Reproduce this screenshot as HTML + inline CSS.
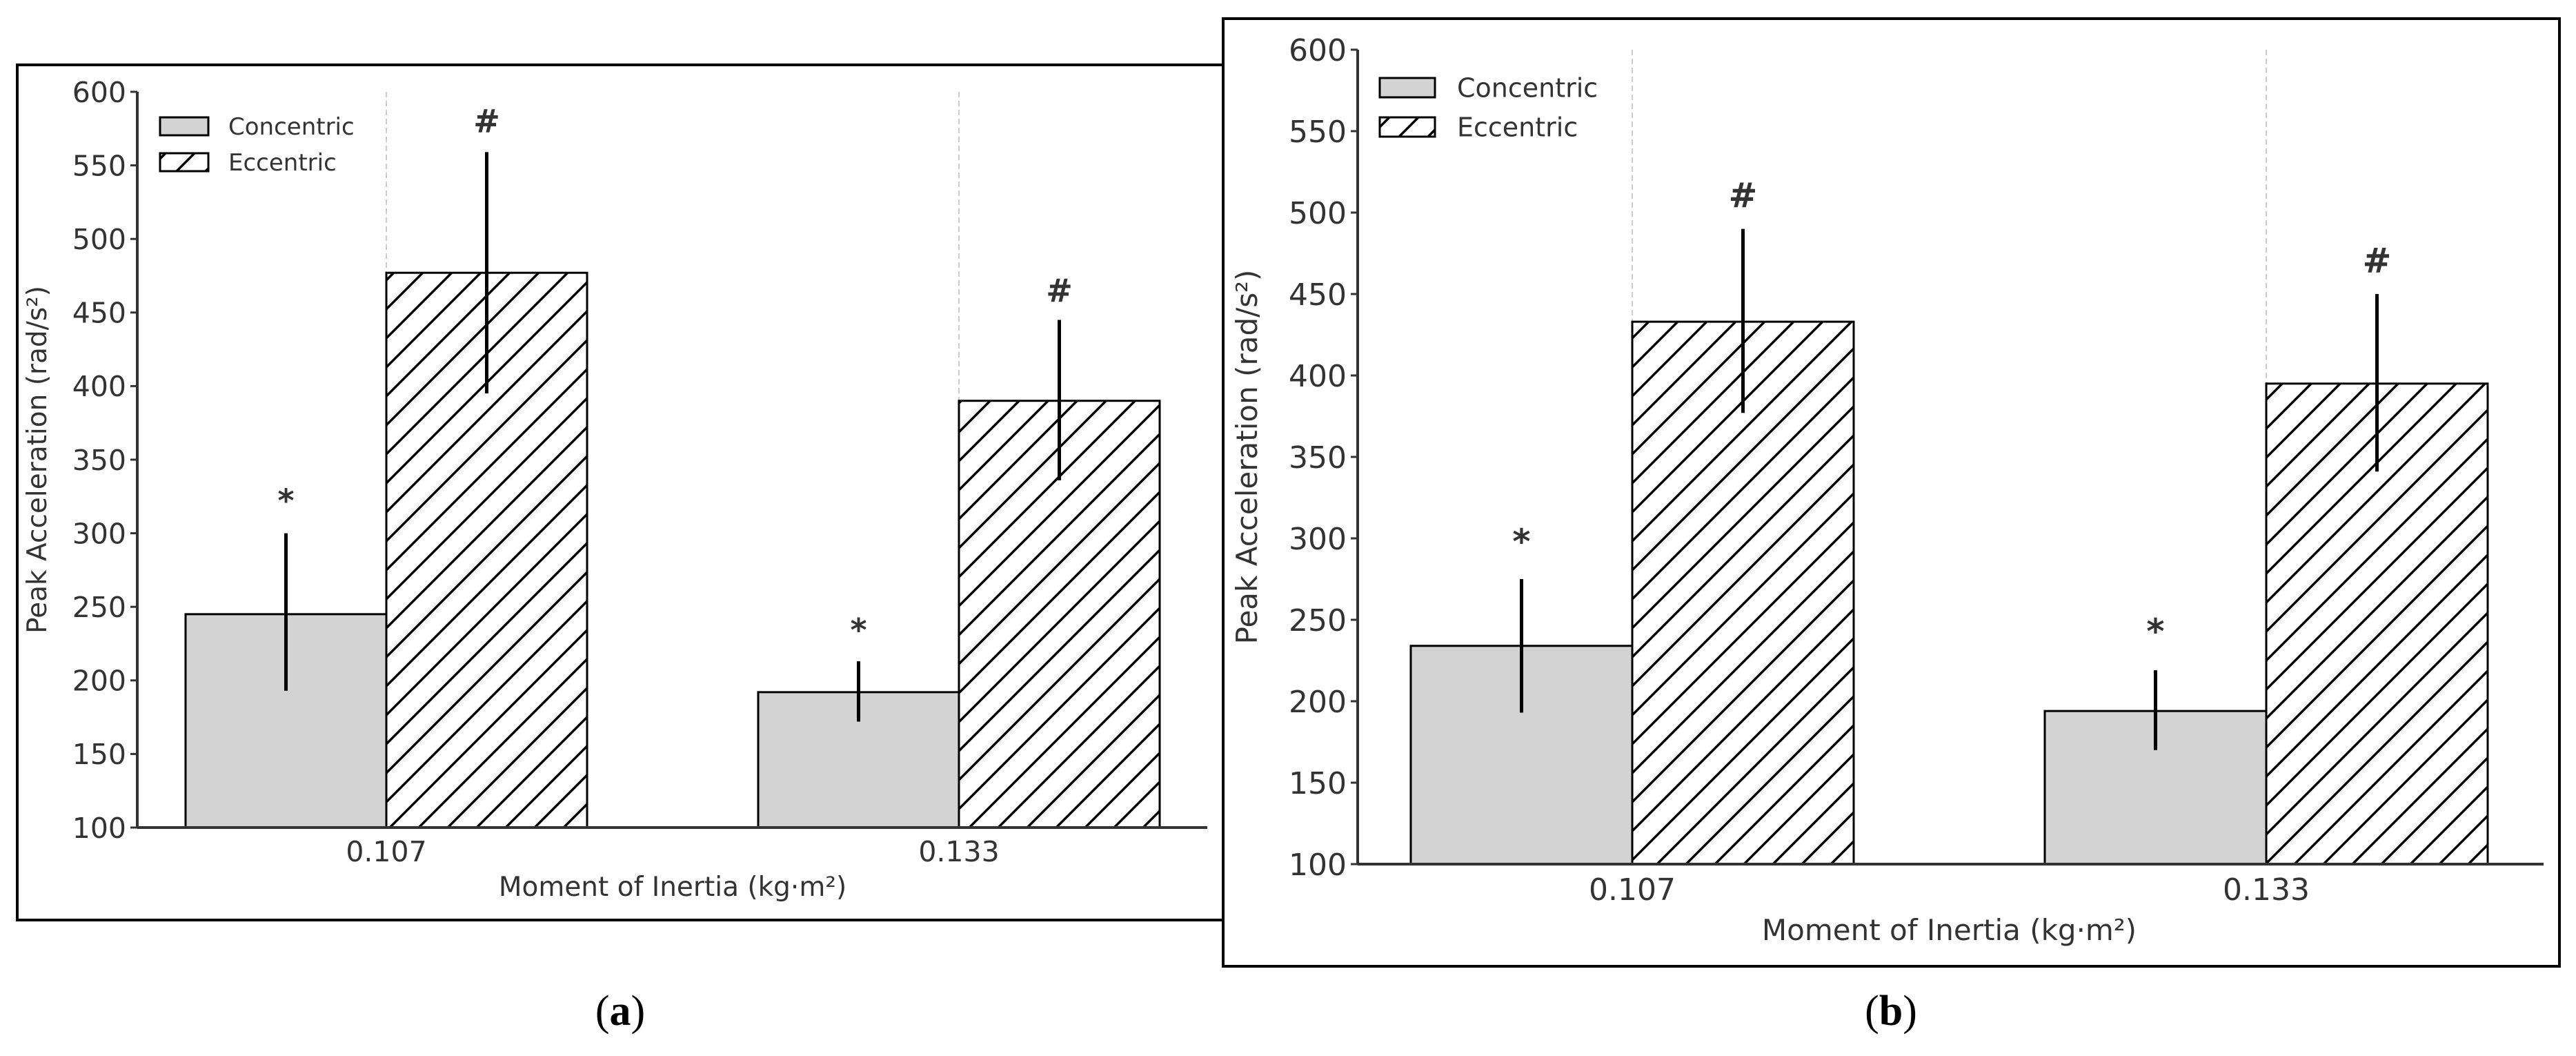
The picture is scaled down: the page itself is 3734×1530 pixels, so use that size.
<!DOCTYPE html>
<html><head><meta charset="utf-8"><style>
html,body{margin:0;padding:0;background:#fff;}
svg{display:block;}
text{font-family:"DejaVu Sans","Liberation Sans",sans-serif;fill:#333;}
</style></head><body>
<svg id="fig" width="3734" height="1530" viewBox="0 0 3734 1530" xmlns="http://www.w3.org/2000/svg">
<defs>
<pattern id="hatch" patternUnits="userSpaceOnUse" width="42" height="42">
<path d="M-10,52 L52,-10 M-10,10 L10,-10 M32,52 L52,32" stroke="#000" stroke-width="3.5"/>
</pattern>
</defs>
<g id="panelA"></g>
<g id="panelB"></g>
</svg>
<script>
const categories = ["0.107", "0.133"];
const yTicks = [100,150,200,250,300,350,400,450,500,550,600];
// Panel (a)
const aConcentric = [245, 192];
const aConcentricErrLow = [193, 172];
const aConcentricErrHigh = [300, 213];
const aEccentric = [477, 390];
const aEccentricErrLow = [395, 336];
const aEccentricErrHigh = [559, 445];
const aConcMarkVal = [325, 237];
const aEccMarkVal = [580, 465];
// Panel (b)
const bConcentric = [234, 194];
const bConcentricErrLow = [193, 170];
const bConcentricErrHigh = [275, 219];
const bEccentric = [433, 395];
const bEccentricErrLow = [377, 341];
const bEccentricErrHigh = [490, 450];
const bConcMarkVal = [300, 245];
const bEccMarkVal = [510, 470];

const NS = "http://www.w3.org/2000/svg";
function mk(parent, tag, attrs, txt){
  const e = document.createElementNS(NS, tag);
  for (const k in attrs) e.setAttribute(k, attrs[k]);
  if (txt !== undefined) e.textContent = txt;
  parent.appendChild(e);
  return e;
}

function drawPanel(g, L, data){
  const y = v => L.y100 - (v - 100) * (L.y100 - L.y600) / 500;
  const fr = mk(g, "rect", {x:L.fx, y:L.fy, width:L.fw, height:L.fh, fill:"#fff", stroke:"#000", "stroke-width":4});
  
  
  // group centers
  const cx = i => L.c0 + i * (L.c1 - L.c0);
  // dashed guides
  categories.forEach((c,i)=>{
    const d = mk(g, "line", {x1:cx(i), x2:cx(i), y1:L.y600, y2:y(data.ecc[i]), stroke:"#ccc", "stroke-width":2, "stroke-dasharray":"8,5"});
    
    
  });
  // bars
  categories.forEach((c,i)=>{
    const b1 = mk(g, "rect", {x:cx(i)-L.bw, y:y(data.conc[i]), width:L.bw, height:y(100)-y(data.conc[i]), fill:"#d3d3d3", stroke:"#000", "stroke-width":3});
    
    
    const b2 = mk(g, "rect", {x:cx(i), y:y(data.ecc[i]), width:L.bw, height:y(100)-y(data.ecc[i]), fill:"url(#hatch)", stroke:"#000", "stroke-width":3});
    
    
    const e1 = mk(g, "line", {x1:cx(i)-L.bw/2, x2:cx(i)-L.bw/2, y1:y(data.concLo[i]), y2:y(data.concHi[i]), stroke:"#000", "stroke-width":5});
    
    
    const e2 = mk(g, "line", {x1:cx(i)+L.bw/2, x2:cx(i)+L.bw/2, y1:y(data.eccLo[i]), y2:y(data.eccHi[i]), stroke:"#000", "stroke-width":5});
    
    
    const s = mk(g, "text", {x:cx(i)-L.bw/2, y:y(data.concMark[i])+22, "text-anchor":"middle", "font-size":L.mf, "font-weight":"bold"}, "*");
    
    
    const h = mk(g, "text", {x:cx(i)+L.bw/2, y:y(data.eccMark[i])+16, "text-anchor":"middle", "font-size":L.mf, "font-weight":"bold"}, "#");
    
    
    const t = mk(g, "text", {x:cx(i), y:L.y100+L.tf+8, "text-anchor":"middle", "font-size":L.tf}, c);
    
    
  });
  // axes
  const ya = mk(g, "line", {x1:L.ax, x2:L.ax, y1:L.y600, y2:L.y100, stroke:"#333", "stroke-width":4});
  
  
  const xa = mk(g, "line", {x1:L.ax, x2:L.axr, y1:L.y100, y2:L.y100, stroke:"#333", "stroke-width":4});
  
  
  yTicks.forEach(v=>{
    const tk = mk(g, "line", {x1:L.ax-10, x2:L.ax, y1:y(v), y2:y(v), stroke:"#333", "stroke-width":3});
    
    
    const tl = mk(g, "text", {x:L.ax-16, y:y(v)+L.tf*0.36, "text-anchor":"end", "font-size":L.tf}, String(v));
    
    
  });
  const yl = mk(g, "text", {x:L.ylx, y:(L.y100+L.y600)/2, "text-anchor":"middle", "font-size":L.lf, transform:"rotate(-90 "+L.ylx+" "+((L.y100+L.y600)/2)+")"}, "Peak Acceleration (rad/s²)");
  
  
  const xl = mk(g, "text", {x:L.c0 + (L.c1-L.c0)/2, y:L.xly, "text-anchor":"middle", "font-size":L.lf}, "Moment of Inertia (kg·m²)");
  
  
  // legend
  const lg1 = mk(g, "rect", {x:L.lgx, y:L.lgy1, width:L.lgw, height:L.lgh, fill:"#d3d3d3", stroke:"#000", "stroke-width":3});
  
  
  const lt1 = mk(g, "text", {x:L.lgt, y:L.lgy1+L.lgh/2+L.legf*0.36, "font-size":L.legf}, "Concentric");
  
  
  const lg2 = mk(g, "rect", {x:L.lgx, y:L.lgy2, width:L.lgw, height:L.lgh, fill:"url(#hatch)", stroke:"#000", "stroke-width":3});
  
  
  const lt2 = mk(g, "text", {x:L.lgt, y:L.lgy2+L.lgh/2+L.legf*0.36, "font-size":L.legf}, "Eccentric");
  
  
  const cap = mk(g, "text", {x:L.capx, y:1485, "text-anchor":"middle", "font-size":62, style:"font-family:'Liberation Serif',serif;fill:#000"}, "");
  
  
  mk(cap, "tspan", {}, "(");
  mk(cap, "tspan", {"font-weight":"bold"}, L.cap);
  mk(cap, "tspan", {}, ")");
}

drawPanel(document.getElementById("panelA"), {
  fx:25, fy:94, fw:1760, fh:1239, ax:199, axr:1750, y100:1199, y600:133,
  c0:560, c1:1390, bw:291, tf:41, lf:39, mf:46, ylx:67, xly:1298,
  lgx:232, lgy1:170, lgy2:222, lgw:70, lgh:26, lgt:331, legf:34, capx:899, cap:"a"
}, {conc:aConcentric, concLo:aConcentricErrLow, concHi:aConcentricErrHigh,
    ecc:aEccentric, eccLo:aEccentricErrLow, eccHi:aEccentricErrHigh,
    concMark:aConcMarkVal, eccMark:aEccMarkVal});

drawPanel(document.getElementById("panelB"), {
  fx:1773, fy:27, fw:1937, fh:1373, ax:1968, axr:3687, y100:1252, y600:72,
  c0:2366, c1:3285, bw:321, tf:44, lf:42, mf:50, ylx:1822, xly:1362,
  lgx:2000, lgy1:113, lgy2:170, lgw:80, lgh:28, lgt:2112, legf:38, capx:2741, cap:"b"
}, {conc:bConcentric, concLo:bConcentricErrLow, concHi:bConcentricErrHigh,
    ecc:bEccentric, eccLo:bEccentricErrLow, eccHi:bEccentricErrHigh,
    concMark:bConcMarkVal, eccMark:bEccMarkVal});
</script>
</body></html>
